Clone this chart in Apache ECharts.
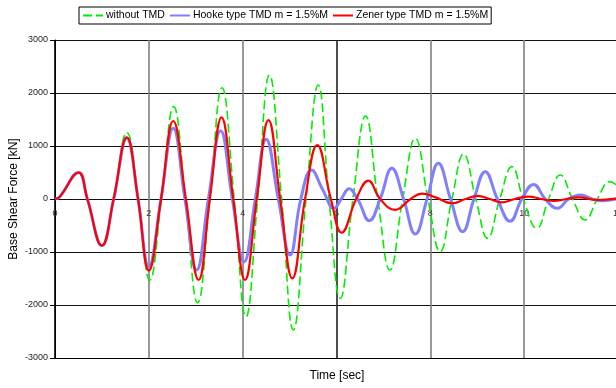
<!DOCTYPE html>
<html>
<head>
<meta charset="utf-8">
<script src="https://cdn.jsdelivr.net/npm/echarts@6/dist/echarts.min.js"></script>
<style>
  html, body { margin: 0; padding: 0; background: #fff; }
  #chart { width: 616px; height: 388px; }
</style>
</head>
<body>
<div id="chart"></div>
<script>
// Base shear force response (kN) over time (s)
const seriesNames = ['without TMD', 'Hooke type TMD m = 1.5%M', 'Zener type TMD m = 1.5%M'];

const timeTicks = [0, 2, 4, 6, 8, 10, 12];
const forceTicks = [-3000, -2000, -1000, 0, 1000, 2000, 3000];

// without TMD
const noTmdT = [0, 0.1, 0.5, 0.69, 1.0, 1.25, 1.53, 1.78, 2.02, 2.27, 2.53, 2.78, 3.04, 3.3, 3.56, 3.82,
  4.07, 4.32, 4.57, 4.83, 5.08, 5.35, 5.61, 5.84, 6.08, 6.35, 6.62, 6.88, 7.14, 7.41, 7.68, 7.95,
  8.21, 8.46, 8.71, 8.97, 9.22, 9.48, 9.74, 9.98, 10.27, 10.52, 10.77, 11.03, 11.3, 11.56, 11.83, 12.0];
const noTmdV = [0, 40, 500, 0, -890, 0, 1250, 0, -1530, 0, 1742, 0, -1957, 0, 2100, 0,
  -2221, 0, 2340, 0, -2472, 0, 2151, 0, -1874, 0, 1566, 0, -1340, 0, 1145, 0,
  -994, 0, 849, 0, -742, 0, 610, 0, -553, 0, 453, 0, -396, 0, 327, 240];

// Hooke type TMD
const hookeT = [0, 0.1, 0.5, 0.69, 1.0, 1.25, 1.53, 1.77, 2.0, 2.26, 2.52, 2.77, 3.02, 3.27, 3.53, 3.78,
  4.03, 4.27, 4.5, 4.76, 5.01, 5.24, 5.47, 5.7, 5.95, 6.1, 6.27, 6.45, 6.7, 6.93, 7.18, 7.43,
  7.68, 7.93, 8.17, 8.43, 8.69, 8.93, 9.17, 9.43, 9.7, 9.95, 10.2, 10.45, 10.71, 10.95, 11.2, 11.45, 11.66, 12.0];
const hookeV = [0, 40, 500, 0, -880, 0, 1150, 0, -1277, 0, 1334, 0, -1340, 0, 1289, 0,
  -1183, 0, 1126, 0, -1057, 0, 547, 190, -176, 0, 195, 0, -409, 0, 579, 0,
  -660, 0, 673, 0, -616, 0, 516, 0, -420, 0, 275, 0, -176, 0, 75, 0, -32, 10];

// Zener type TMD
const zenerT = [0, 0.1, 0.5, 0.69, 1.0, 1.25, 1.53, 1.77, 2.0, 2.26, 2.52, 2.79, 3.06, 3.3, 3.55, 3.8,
  4.05, 4.3, 4.55, 4.8, 5.06, 5.33, 5.59, 5.88, 6.11, 6.42, 6.68, 6.93, 7.25, 7.58, 7.82, 8.1,
  8.46, 8.75, 9.0, 9.27, 9.52, 9.8, 10.09, 10.37, 10.64, 10.9, 11.16, 11.55, 12.0];
const zenerV = [0, 40, 500, 0, -880, 0, 1164, 0, -1353, 0, 1472, 0, -1528, 0, 1541, 0,
  -1528, 0, 1490, 0, -1497, 0, 1019, 0, -636, 0, 346, 0, -205, 0, 100, 35,
  -80, 0, 60, 0, -63, 0, 44, 0, -38, 0, 31, -19, 10];

const pairs = (t, v) => t.map((x, i) => [x, v[i]]);

const font = "'Liberation Sans', Arial, sans-serif";
const chart = echarts.init(document.getElementById('chart'), null, { renderer: 'canvas' });

// time labels sit just under the zero line, inside the plot area
const plotTop = 40, plotBottom = 30, chartH = 388;
const zeroY = plotTop + (chartH - plotTop - plotBottom) / 2;
const timeLabelMargin = zeroY + 10 - (chartH - plotBottom);

chart.setOption({
  animation: false,
  backgroundColor: '#ffffff',
  grid: { left: 55, right: -2, top: plotTop, bottom: plotBottom, containLabel: false, outerBoundsMode: 'none' },
  legend: {
    data: seriesNames,
    top: 7,
    left: 79,
    padding: [3, 3],
    itemWidth: 20,
    itemHeight: 12,
    itemGap: 4,
    borderColor: '#000',
    borderWidth: 1,
    itemStyle: { opacity: 0 },
    textStyle: { fontFamily: font, fontSize: 10.5, color: '#000', padding: [0, 0, 0, -2] }
  },
  xAxis: {
    type: 'value',
    min: timeTicks[0],
    max: timeTicks[timeTicks.length - 1],
    interval: 2,
    axisLine: { onZero: false, lineStyle: { color: '#000', width: 1 } },
    axisTick: { show: false },
    axisLabel: { fontFamily: font, fontSize: 9, color: '#333', margin: timeLabelMargin, showMaxLabel: true, showMinLabel: true },
    splitLine: {
      show: true,
      lineStyle: { color: ['#000', '#808080', '#808080', '#222', '#808080', '#808080', '#000'], width: 1.6 }
    }
  },
  yAxis: {
    type: 'value',
    min: forceTicks[0],
    max: forceTicks[forceTicks.length - 1],
    interval: 1000,
    name: 'Base Shear Force [kN]',
    nameLocation: 'middle',
    nameGap: 35,
    nameMoveOverlap: false,
    nameTextStyle: { fontFamily: font, fontSize: 12, color: '#000' },
    axisLine: { show: true, onZero: false, lineStyle: { color: '#000', width: 1 } },
    axisTick: { show: true, length: 5, lineStyle: { color: '#000' } },
    axisLabel: { fontFamily: font, fontSize: 9, color: '#222', margin: 7, formatter: v => String(v) },
    splitLine: { show: true, lineStyle: { color: '#111', width: 1 } }
  },
  graphic: [{
    type: 'text',
    x: 337,
    y: 376,
    style: { text: 'Time [sec]', font: '12px ' + font, fill: '#000', align: 'center', verticalAlign: 'middle' }
  }],
  series: [
    {
      name: seriesNames[0], type: 'line', smooth: 0.45, showSymbol: false, symbol: 'none', z: 2,
      data: pairs(noTmdT, noTmdV),
      lineStyle: { color: '#00ee00', width: 1.6, type: [9, 4] },
      itemStyle: { color: '#00ee00' }
    },
    {
      name: seriesNames[1], type: 'line', smooth: 0.45, showSymbol: false, symbol: 'none', z: 3,
      data: pairs(hookeT, hookeV),
      lineStyle: { color: '#8080ff', width: 3 },
      itemStyle: { color: '#8080ff' }
    },
    {
      name: seriesNames[2], type: 'line', smooth: 0.45, showSymbol: false, symbol: 'none', z: 4,
      data: pairs(zenerT, zenerV),
      lineStyle: { color: '#ff0000', width: 2.2 },
      itemStyle: { color: '#ff0000' }
    }
  ]
});
</script>
</body>
</html>
